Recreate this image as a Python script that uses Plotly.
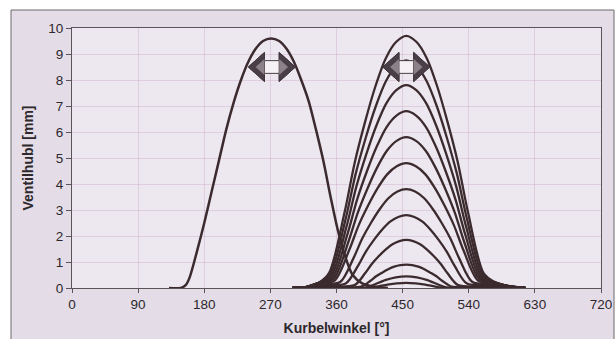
import plotly.graph_objects as go

# ---- Auslass valve lift (crank angle in deg, lift in mm) ----
auslass_x = [132, 148, 155, 160, 170, 180, 190, 200, 210, 220, 230, 240, 250, 260, 271,
             282, 292, 302, 312, 322, 332, 342, 352, 362, 372, 382, 395, 410, 430]
auslass_y = [0.0, 0.0, 0.12, 0.4, 1.4, 2.5, 3.7, 4.9, 6.1, 7.13, 8.0, 8.7, 9.2, 9.5, 9.6,
             9.5, 9.2, 8.7, 8.0, 7.2, 6.1, 4.9, 3.5, 2.2, 1.2, 0.5, 0.18, 0.06, 0.0]

# ---- Einlass valve lift family (variable lift) ----
ein_97_x = [300, 318, 336, 350, 371, 385, 399, 413, 427, 441, 455,
            469, 483, 497, 511, 525, 539, 560, 574, 596, 617]
ein_97_y = [0.0, 0.03, 0.2, 0.58, 2.91, 4.85, 6.40, 7.76, 8.83, 9.46, 9.7,
            9.46, 8.83, 7.76, 6.40, 4.85, 2.91, 0.58, 0.25, 0.07, 0.0]

ein_88_x = [300, 318, 336, 351.5, 372.2, 386, 399.8, 413.6, 427.4, 441.2, 455,
            468.8, 482.6, 496.4, 510.2, 524, 537.8, 558.5, 574, 596, 617]
ein_88_y = [0.0, 0.03, 0.2, 0.53, 2.63, 4.38, 5.78, 7.0, 7.96, 8.53, 8.75,
            8.53, 7.96, 7.0, 5.78, 4.38, 2.63, 0.53, 0.22, 0.06, 0.0]

ein_78_x = [300, 318, 336, 353, 373.4, 387, 400.6, 414.2, 427.8, 441.4, 455,
            468.6, 482.2, 495.8, 509.4, 523, 536.6, 557, 574, 596, 617]
ein_78_y = [0.0, 0.03, 0.2, 0.47, 2.34, 3.9, 5.15, 6.24, 7.10, 7.61, 7.8,
            7.61, 7.10, 6.24, 5.15, 3.9, 2.34, 0.47, 0.22, 0.06, 0.0]

ein_68_x = [300, 318, 336, 354.5, 374.6, 388, 401.4, 414.8, 428.2, 441.6, 455,
            468.4, 481.8, 495.2, 508.6, 522, 535.4, 555.5, 574, 596, 617]
ein_68_y = [0.0, 0.03, 0.2, 0.41, 2.04, 3.4, 4.49, 5.44, 6.19, 6.63, 6.8,
            6.63, 6.19, 5.44, 4.49, 3.4, 2.04, 0.41, 0.22, 0.06, 0.0]

ein_58_x = [300, 318, 336, 356, 375.8, 389, 402.2, 415.4, 428.6, 441.8, 455,
            468.2, 481.4, 494.6, 507.8, 521, 534.2, 554, 574, 596, 617]
ein_58_y = [0.0, 0.03, 0.2, 0.35, 1.74, 2.9, 3.83, 4.64, 5.28, 5.66, 5.8,
            5.66, 5.28, 4.64, 3.83, 2.9, 1.74, 0.35, 0.22, 0.06, 0.0]

ein_48_x = [300, 318, 336, 357.5, 377, 390, 403, 416, 429, 442, 455,
            468, 481, 494, 507, 520, 533, 552.5, 574, 596, 617]
ein_48_y = [0.0, 0.03, 0.2, 0.29, 1.44, 2.4, 3.17, 3.84, 4.37, 4.68, 4.8,
            4.68, 4.37, 3.84, 3.17, 2.4, 1.44, 0.29, 0.2, 0.06, 0.0]

ein_38_x = [300, 318, 338, 365, 383, 395, 407, 419, 431, 443, 455,
            467, 479, 491, 503, 515, 527, 545, 572, 596, 617]
ein_38_y = [0.0, 0.03, 0.15, 0.23, 1.14, 1.9, 2.51, 3.04, 3.46, 3.71, 3.8,
            3.71, 3.46, 3.04, 2.51, 1.9, 1.14, 0.23, 0.15, 0.05, 0.0]

ein_28_x = [300, 320, 340, 372.5, 389, 400, 411, 422, 433, 444, 455,
            466, 477, 488, 499, 510, 521, 537.5, 570, 596, 617]
ein_28_y = [0.0, 0.03, 0.1, 0.17, 0.84, 1.4, 1.85, 2.24, 2.55, 2.73, 2.8,
            2.73, 2.55, 2.24, 1.85, 1.4, 0.84, 0.17, 0.1, 0.04, 0.0]

ein_19_x = [300, 322, 345, 384.5, 398.6, 408, 417.4, 426.8, 436.2, 445.6, 455,
            464.4, 473.8, 483.2, 492.6, 502, 511.4, 525.5, 565, 596, 617]
ein_19_y = [0.0, 0.02, 0.06, 0.11, 0.555, 0.925, 1.22, 1.48, 1.68, 1.80, 1.85,
            1.80, 1.68, 1.48, 1.22, 0.925, 0.555, 0.11, 0.06, 0.02, 0.0]

ein_09_x = [300, 330, 365, 393.5, 405.8, 414, 422.2, 430.4, 438.6, 446.8, 455,
            463.2, 471.4, 479.6, 487.8, 496, 504.2, 516.5, 560, 617]
ein_09_y = [0.0, 0.02, 0.03, 0.054, 0.27, 0.45, 0.59, 0.72, 0.82, 0.88, 0.9,
            0.88, 0.82, 0.72, 0.59, 0.45, 0.27, 0.054, 0.03, 0.0]

ein_05_x = [300, 350, 401, 411.8, 426.2, 440.6, 455, 469.4, 483.8, 498.2, 509, 560, 617]
ein_05_y = [0.0, 0.01, 0.027, 0.135, 0.30, 0.41, 0.45, 0.41, 0.30, 0.135, 0.027, 0.01, 0.0]

ein_02_x = [300, 360, 407, 416.6, 429.4, 442.2, 455, 467.8, 480.6, 493.4, 503, 617]
ein_02_y = [0.0, 0.005, 0.012, 0.06, 0.13, 0.18, 0.2, 0.18, 0.13, 0.06, 0.012, 0.0]

einlass_curves = [
    (ein_97_x, ein_97_y), (ein_88_x, ein_88_y), (ein_78_x, ein_78_y),
    (ein_68_x, ein_68_y), (ein_58_x, ein_58_y), (ein_48_x, ein_48_y),
    (ein_38_x, ein_38_y), (ein_28_x, ein_28_y), (ein_19_x, ein_19_y),
    (ein_09_x, ein_09_y), (ein_05_x, ein_05_y), (ein_02_x, ein_02_y),
]

x_ticks = [0, 90, 180, 270, 360, 450, 540, 630, 720]
y_ticks = [0, 1, 2, 3, 4, 5, 6, 7, 8, 9, 10]

valve_labels = ["Auslass", "Einlass"]
label_angles = [272, 455]
arrow_angles = [272, 455]
arrow_lift = 8.5

LINE = "#3b2b2e"
TEXT = "#2c282c"
AXIS = "#5a5458"

fig = go.Figure()

fig.add_trace(go.Scatter(x=auslass_x, y=auslass_y, mode="lines",
                         line=dict(color=LINE, width=2.5, shape="spline", smoothing=0.8),
                         hoverinfo="skip"))
for cx, cy in einlass_curves:
    fig.add_trace(go.Scatter(x=cx, y=cy, mode="lines",
                             line=dict(color=LINE, width=2.3, shape="spline", smoothing=0.8),
                             hoverinfo="skip"))

# page frame and plot area background (paper coordinates)
frame_l, frame_r, frame_t = (11 - 72) / 529, (614 - 72) / 529, 1 + (28 - 10) / 260
shapes = [
    dict(type="rect", xref="paper", yref="paper", x0=frame_l, x1=frame_r, y0=-0.4, y1=frame_t,
         fillcolor="#e4dce6", line=dict(color="#6e686c", width=1), layer="below"),
    dict(type="rect", xref="paper", yref="paper", x0=0, x1=1, y0=0, y1=1,
         fillcolor="#ede7ef", line=dict(width=0), layer="below"),
]

# double-headed block arrows marking the adjustable timing
half_len, head_len, head_h, shaft_h = 32, 22, 0.56, 0.245
for c in arrow_angles:
    y = arrow_lift
    a, b = c - half_len + head_len, c + half_len - head_len
    outline = (f"M {c-half_len},{y} L {a},{y+head_h} L {a},{y+shaft_h} L {b},{y+shaft_h} "
               f"L {b},{y+head_h} L {c+half_len},{y} L {b},{y-head_h} L {b},{y-shaft_h} "
               f"L {a},{y-shaft_h} L {a},{y-head_h} Z")
    shapes.append(dict(type="path", xref="x", yref="y", path=outline,
                       fillcolor="#f5f1f5", line=dict(color="#4a4046", width=1)))
    for tip, base in ((c - half_len, a), (c + half_len, b)):
        shapes.append(dict(type="path", xref="x", yref="y",
                           path=f"M {tip},{y} L {base},{y+head_h} L {base},{y-head_h} Z",
                           fillcolor="#4a3f46", line=dict(color="#3e343a", width=1)))
        mid = tip + (base - tip) * 0.45
        shapes.append(dict(type="path", xref="x", yref="y",
                           path=f"M {mid},{y} L {base},{y+head_h*0.55} L {base},{y-head_h*0.55} Z",
                           fillcolor="#8d8189", line=dict(width=0)))

annotations = [
    dict(x=xa, y=10.31, xref="x", yref="y", text=t, showarrow=False,
         font=dict(size=14, color=TEXT), xanchor="center", yanchor="middle")
    for xa, t in zip(label_angles, valve_labels)
]

grid = "rgba(196,160,196,0.35)"
fig.update_layout(
    width=616, height=339,
    margin=dict(l=72, r=15, t=28, b=51),
    paper_bgcolor="white", plot_bgcolor="rgba(0,0,0,0)",
    showlegend=False,
    font=dict(family="Liberation Sans, Arial, sans-serif", color=TEXT),
    shapes=shapes, annotations=annotations,
    xaxis=dict(range=[0, 720], tickvals=x_ticks, ticktext=[str(v) for v in x_ticks],
               automargin=False,
               ticks="outside", ticklen=4, tickcolor=AXIS, tickfont=dict(size=13.5),
               showline=True, linecolor=AXIS, linewidth=1, mirror=True,
               showgrid=True, gridcolor=grid, gridwidth=1, zeroline=False,
               title=dict(text="<b>Kurbelwinkel [°]</b>", font=dict(size=14), standoff=11)),
    yaxis=dict(range=[0, 10], tickvals=y_ticks, ticktext=[str(v) for v in y_ticks],
               automargin=False,
               ticks="outside", ticklen=5, tickcolor=AXIS, tickfont=dict(size=13.5),
               showline=True, linecolor=AXIS, linewidth=1, mirror=True,
               showgrid=True, gridcolor=grid, gridwidth=1, zeroline=False,
               title=dict(text="<b>Ventilhubl [mm]</b>", font=dict(size=14), standoff=11)),
)

fig.write_html("out.html")
